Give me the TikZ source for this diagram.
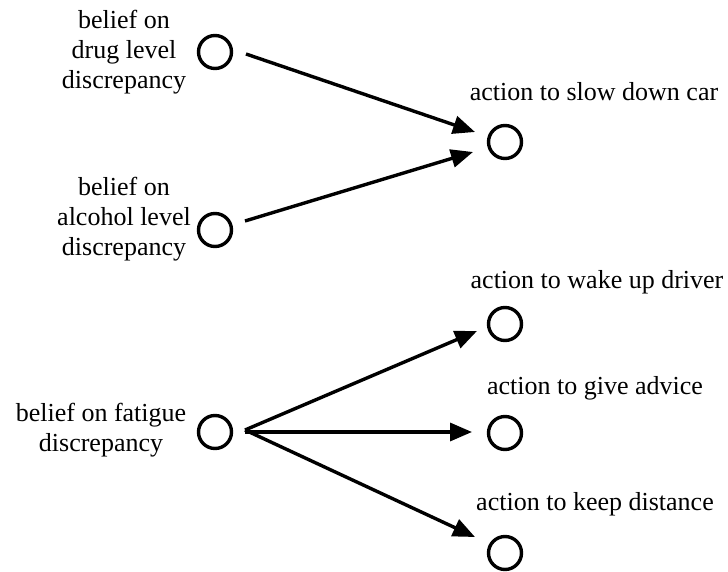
\documentclass[tikz,border=0pt]{standalone}
\usepackage{fontspec}
\setmainfont{Liberation Serif}
\usetikzlibrary{arrows.meta,calc}

\tikzset{
  state/.style={circle, draw, line width=1.7pt, minimum size=16.5pt, inner sep=0pt},
  caption/.style={align=center, inner sep=0pt, font=\fontsize{13pt}{15pt}\selectfont},
  link/.style={line width=1.7pt, -{Triangle[length=11pt,width=9pt]}}
}

\begin{document}
\begin{tikzpicture}[x=0.5pt, y=-0.5pt]
  \useasboundingbox (0,0) rectangle (728,572);

  % belief states (left column)
  \node[state] (drug)    at (215,52)  {};
  \node[state] (alcohol) at (215,230) {};
  \node[state] (fatigue) at (215,432) {};

  % action states (right column)
  \node[state] (slow)   at (505,142) {};
  \node[state] (wake)   at (505,324) {};
  \node[state] (advice) at (505,433) {};
  \node[state] (keep)   at (505,553) {};

  % captions
  \node[caption] (tdrug)    at (124,52)  {belief on\\drug level\\discrepancy};
  \node[caption] (talcohol) at (124,219) {belief on\\alcohol level\\discrepancy};
  \node[caption] (tfatigue) at (101,430) {belief on fatigue\\discrepancy};
  \node[caption] (tslow)    at (594,92)  {action to slow down car};
  \node[caption] (twake)    at (597,282) {action to wake up driver};
  \node[caption] (tadvice)  at (595,388) {action to give advice};
  \node[caption] (tkeep)    at (595,504) {action to keep distance};

  % connectors
  \draw[link] ($(drug)+(31,2)$)     -- ($(slow)+(-30,-10)$);
  \draw[link] ($(alcohol)+(30,-9)$) -- ($(slow)+(-32,10)$);
  \coordinate (fork) at ($(fatigue)+(30,-2)$);
  \draw[link] (fork) -- ($(wake)+(-28,7)$);
  \draw[link] ($(fatigue)+(30,0)$) -- ($(advice)+(-33,-1)$);
  \draw[link] (fork) -- ($(keep)+(-30,-16)$);
\end{tikzpicture}
\end{document}
